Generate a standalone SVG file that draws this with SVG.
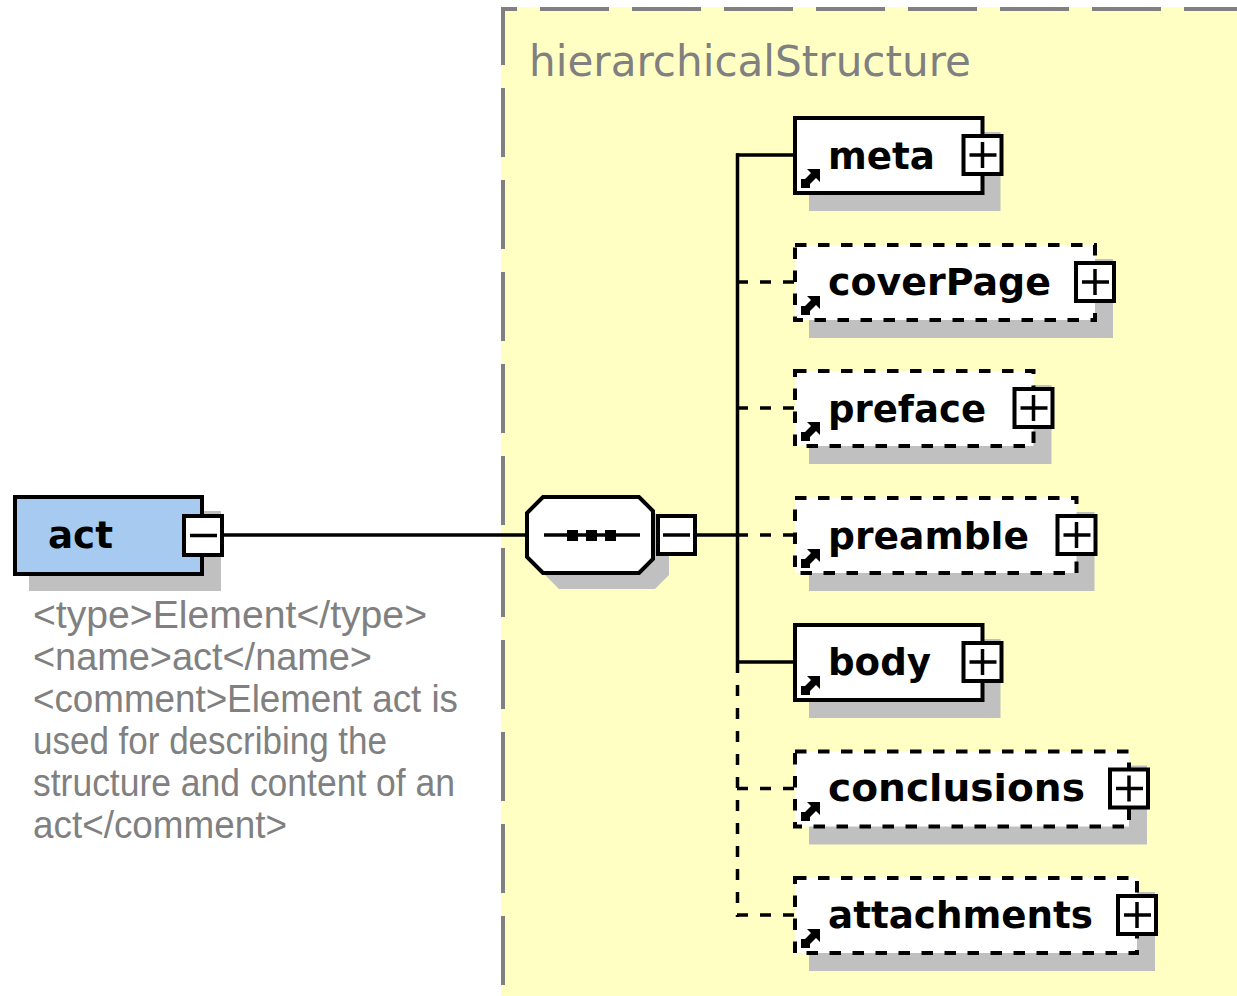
<svg xmlns="http://www.w3.org/2000/svg" xmlns:xlink="http://www.w3.org/1999/xlink" width="1237" height="996" viewBox="0 0 1237 996">
<style>
.ln{stroke:#000;stroke-width:3.5;fill:none}
.dl{stroke:#000;stroke-width:3.5;fill:none;stroke-dasharray:11 12}
.box{fill:#fff;stroke:#000;stroke-width:4}
.dbox{fill:#fff;stroke:#000;stroke-width:4;stroke-dasharray:11.5 11.5}
.sh{fill:#c0c0c0}
.pm{fill:#fff;stroke:#000;stroke-width:4}
.pl{stroke:#000;stroke-width:3.5;fill:none}
.lbl{font-family:"DejaVu Sans",Verdana,sans-serif;font-weight:bold;font-size:38px;fill:#000}
.cmt{font-family:"Liberation Sans",Arial,sans-serif;font-size:38px;fill:#808080}
.ttl{font-family:"DejaVu Sans",Verdana,sans-serif;font-size:42px;fill:#808080}
</style>
<defs>
<polygon id="ref" points="6,0 19,0 19,13 15,9 9,15 9,19 0,19 0,10 4,10 10,4" fill="#000"/>
</defs>
<rect width="1237" height="996" fill="#fff"/>
<g id="group-hierarchicalStructure">
<rect x="501" y="7" width="736" height="989" fill="#ffffc4"/>
<line x1="501" y1="9" x2="1237" y2="9" stroke="#808080" stroke-width="4" stroke-dasharray="69 23" stroke-dashoffset="53"/>
<line x1="503" y1="7" x2="503" y2="996" stroke="#808080" stroke-width="4" stroke-dasharray="69 23" stroke-dashoffset="11"/>
<text class="ttl" x="529" y="76" textLength="442" lengthAdjust="spacingAndGlyphs">hierarchicalStructure</text>
</g>
<g id="connectors">
<line class="ln" x1="224" y1="535" x2="527" y2="535"/>
<line class="ln" x1="697" y1="535" x2="737.5" y2="535"/>
<line class="ln" x1="737.5" y1="153.3" x2="737.5" y2="662"/>
<line class="dl" x1="737.5" y1="662" x2="737.5" y2="917"/>
<line class="ln" x1="736" y1="155" x2="795" y2="155"/>
<line class="dl" x1="737" y1="282" x2="795" y2="282"/>
<line class="dl" x1="737" y1="408" x2="795" y2="408"/>
<line class="dl" x1="737" y1="535" x2="795" y2="535"/>
<line class="ln" x1="736" y1="662" x2="795" y2="662"/>
<line class="dl" x1="737" y1="788.5" x2="795" y2="788.5"/>
<line class="dl" x1="737" y1="915" x2="795" y2="915"/>
</g>
<g id="node-act">
<rect class="sh" x="29" y="511" width="192" height="80"/>
<rect x="15" y="497" width="187" height="77" fill="#a6caf0" stroke="#000" stroke-width="4"/>
<text class="lbl" x="48" y="548" textLength="65" lengthAdjust="spacingAndGlyphs">act</text>
<rect class="pm" x="184" y="516" width="38" height="39"/>
<path class="pl" d="M190 535.5H217"/>
</g>
<g id="node-comment">
<text class="cmt" x="33" y="628" textLength="394" lengthAdjust="spacingAndGlyphs">&lt;type&gt;Element&lt;/type&gt;</text>
<text class="cmt" x="33" y="670" textLength="339" lengthAdjust="spacingAndGlyphs">&lt;name&gt;act&lt;/name&gt;</text>
<text class="cmt" x="33" y="712" textLength="425" lengthAdjust="spacingAndGlyphs">&lt;comment&gt;Element act is</text>
<text class="cmt" x="33" y="754" textLength="354" lengthAdjust="spacingAndGlyphs">used for describing the</text>
<text class="cmt" x="33" y="796" textLength="422" lengthAdjust="spacingAndGlyphs">structure and content of an</text>
<text class="cmt" x="33" y="838" textLength="254" lengthAdjust="spacingAndGlyphs">act&lt;/comment&gt;</text>
</g>
<g id="node-sequence">
<polygon class="sh" points="559,513 655,513 669,527 669,575 655,589 559,589 543,573 543,529"/>
<polygon class="box" points="543,497 639,497 653,511 653,559 639,573 543,573 527,557 527,513"/>
<path class="pl" d="M544 535H640"/>
<rect x="567" y="530" width="11" height="11" fill="#000"/>
<rect x="586" y="530" width="11" height="11" fill="#000"/>
<rect x="605" y="530" width="11" height="11" fill="#000"/>
<rect class="pm" x="658" y="516" width="37" height="38"/>
<path class="pl" d="M663 535H690"/>
</g>
<g id="node-meta">
<rect class="sh" x="809" y="132" width="191.5" height="79"/>
<rect class="box" x="795" y="118" width="187.5" height="75"/>
<text class="lbl" x="828" y="169" textLength="107" lengthAdjust="spacingAndGlyphs">meta</text>
<use xlink:href="#ref" x="801" y="169"/>
<rect class="pm" x="963.5" y="136" width="38" height="38"/>
<path class="pl" d="M969.5 155H996.5M982.5 142V168"/>
</g>
<g id="node-coverPage">
<rect class="sh" x="809" y="259" width="304" height="79"/>
<rect class="dbox" x="795" y="245" width="300" height="75"/>
<text class="lbl" x="828" y="295" textLength="223" lengthAdjust="spacingAndGlyphs">coverPage</text>
<use xlink:href="#ref" x="801" y="296"/>
<rect class="pm" x="1076" y="263" width="38" height="38"/>
<path class="pl" d="M1082 282H1109M1095 269V295"/>
</g>
<g id="node-preface">
<rect class="sh" x="809" y="385" width="242.5" height="79"/>
<rect class="dbox" x="795" y="371" width="238.5" height="75"/>
<text class="lbl" x="828" y="422" textLength="158" lengthAdjust="spacingAndGlyphs">preface</text>
<use xlink:href="#ref" x="801" y="422"/>
<rect class="pm" x="1014.5" y="389" width="38" height="38"/>
<path class="pl" d="M1020.5 408H1047.5M1033.5 395V421"/>
</g>
<g id="node-preamble">
<rect class="sh" x="809" y="512" width="285.5" height="79"/>
<rect class="dbox" x="795" y="498" width="281.5" height="75"/>
<text class="lbl" x="828" y="549" textLength="201" lengthAdjust="spacingAndGlyphs">preamble</text>
<use xlink:href="#ref" x="801" y="549"/>
<rect class="pm" x="1057.5" y="516" width="38" height="38"/>
<path class="pl" d="M1063.5 535H1090.5M1076.5 522V548"/>
</g>
<g id="node-body">
<rect class="sh" x="809" y="639" width="191.5" height="79"/>
<rect class="box" x="795" y="625" width="187.5" height="75"/>
<text class="lbl" x="828" y="675" textLength="103" lengthAdjust="spacingAndGlyphs">body</text>
<use xlink:href="#ref" x="801" y="676"/>
<rect class="pm" x="963.5" y="643" width="38" height="38"/>
<path class="pl" d="M969.5 662H996.5M982.5 649V675"/>
</g>
<g id="node-conclusions">
<rect class="sh" x="809" y="765.5" width="338" height="79"/>
<rect class="dbox" x="795" y="751.5" width="334" height="75"/>
<text class="lbl" x="828" y="801" textLength="257" lengthAdjust="spacingAndGlyphs">conclusions</text>
<use xlink:href="#ref" x="801" y="802"/>
<rect class="pm" x="1110" y="769.5" width="38" height="38"/>
<path class="pl" d="M1116 788.5H1143M1129 775.5V801.5"/>
</g>
<g id="node-attachments">
<rect class="sh" x="809" y="892" width="346" height="79"/>
<rect class="dbox" x="795" y="878" width="342" height="75"/>
<text class="lbl" x="828" y="928" textLength="265" lengthAdjust="spacingAndGlyphs">attachments</text>
<use xlink:href="#ref" x="801" y="929"/>
<rect class="pm" x="1118" y="896" width="38" height="38"/>
<path class="pl" d="M1124 915H1151M1137 902V928"/>
</g>
</svg>
